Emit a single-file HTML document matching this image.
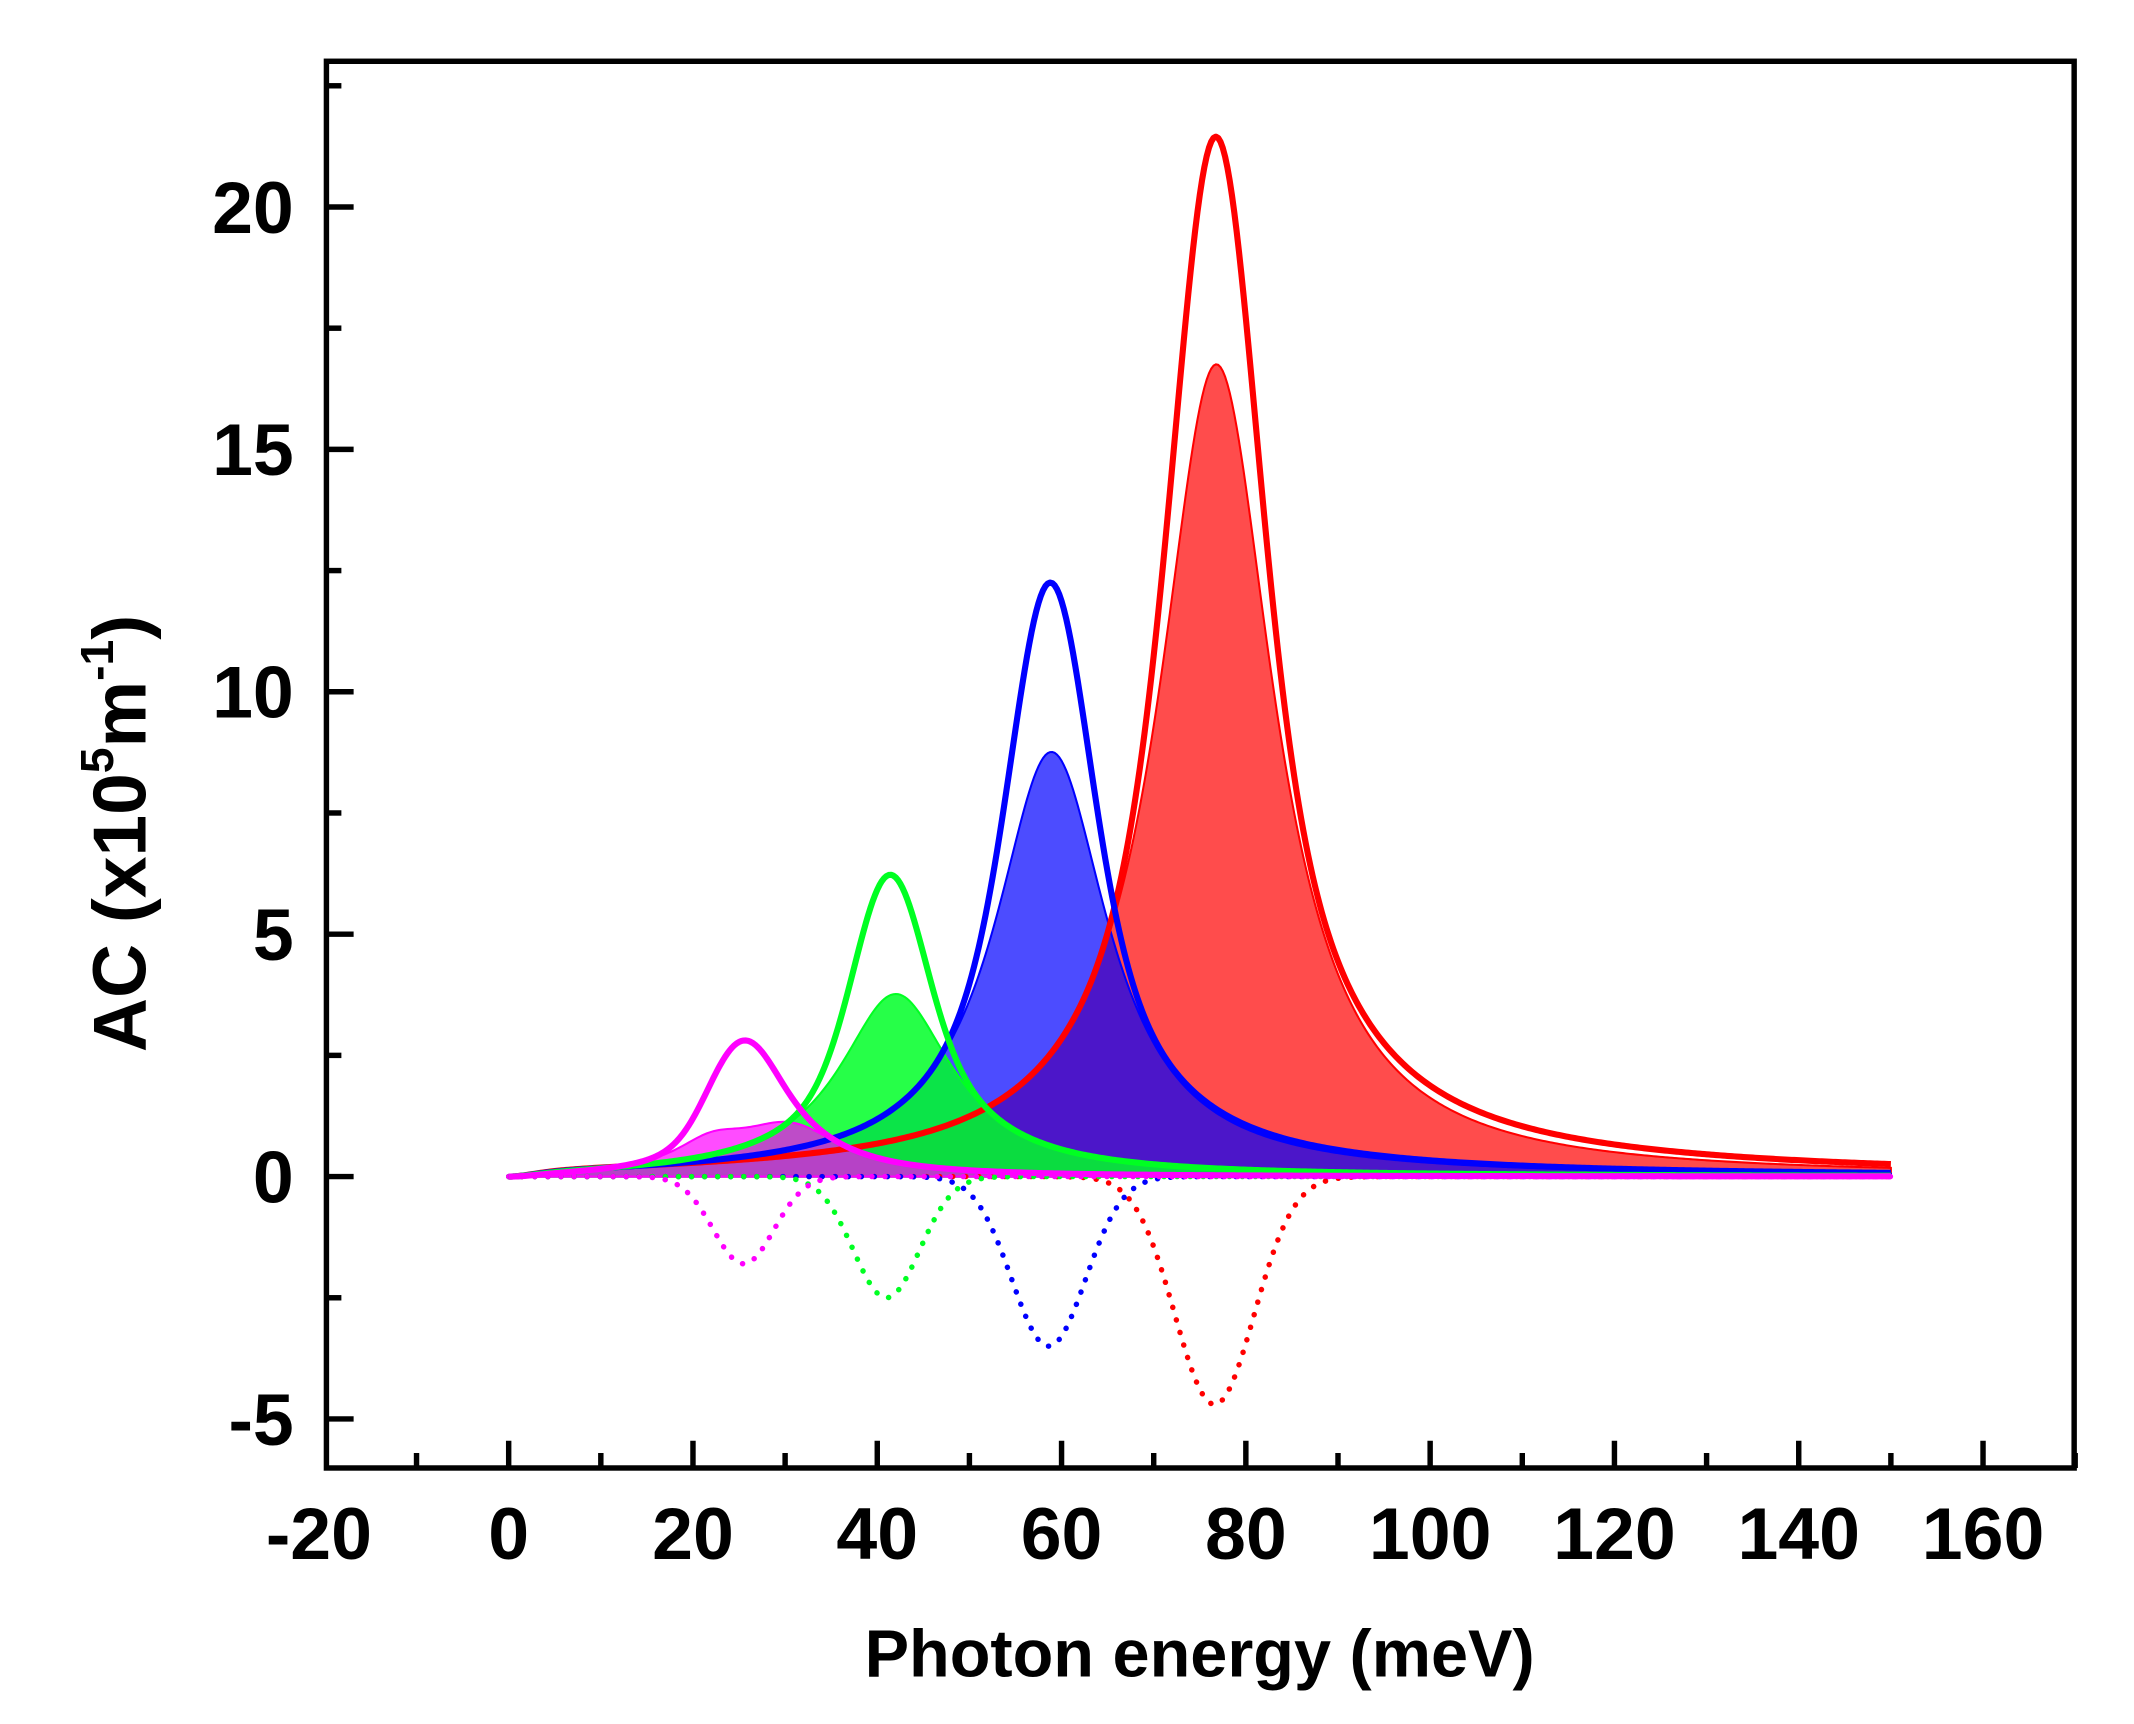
<!DOCTYPE html>
<html><head><meta charset="utf-8"><style>
html,body{margin:0;padding:0;background:#fff;}
svg{display:block;}
text{font-family:"Liberation Sans",Arial,sans-serif;font-weight:bold;fill:#000;}
</style></head><body>
<svg id="s" width="2134" height="1724" viewBox="0 0 1569 1266" preserveAspectRatio="none" xmlns="http://www.w3.org/2000/svg">
<g id="fills"></g>
<g id="lines"></g>
<rect x="240" y="45" width="1285" height="1033" fill="none" stroke="#000" stroke-width="4"/>
<g id="ticks" stroke="#000" stroke-width="4"></g>
<g font-size="54" text-anchor="middle" id="xl"></g>
<g font-size="54" text-anchor="end" id="yl"></g>
<text x="882" y="1231" font-size="49" text-anchor="middle">Photon energy (meV)</text>
<text transform="translate(107,612) rotate(-90)" font-size="55" text-anchor="middle">AC (x10<tspan font-size="34" dy="-24">5</tspan><tspan dy="24">m</tspan><tspan font-size="34" dy="-24">-1</tspan><tspan dy="24">)</tspan></text>
</svg>
<script>
var NS="http://www.w3.org/2000/svg";
function X(x){return 374+x*6.775;}
function Y(y){return 864-y*35.6;}
function L(x,c,g){return g*g/((x-c)*(x-c)+g*g);}
function G(x,c,s){return Math.exp(-(x-c)*(x-c)/(2*s*s));}
function damp(x){return x*x/(x*x+16);}
function right(x,c,a,g){return x>c ? a*L(x,c+3,g)*(1-G(x,c,8)) : 0;}
var series=[
 {col:"#ff0000",fill:"rgba(255,0,0,0.7)",lin:function(x){return 16.8*L(x,76.8,7.6)*damp(x);},nl:function(x){return 4.7*G(x,76.6,4.3);},ex:function(x){return right(x,76.6,0.32,40);}},
 {col:"#0000ff",fill:"rgba(0,0,255,0.7)",lin:function(x){return 8.8*L(x,58.9,7.5)*damp(x);},nl:function(x){return 3.5*G(x,58.6,4.0);},ex:function(x){return right(x,58.6,0.1,40);}},
 {col:"#00ff22",fill:"rgba(0,255,40,0.85)",lin:function(x){return 3.8*L(x,42,7.5)*damp(x);},nl:function(x){return 2.5*G(x,41,3.6);},ex:function(x){return 0;}},
 {col:"#ff00ff",fill:"rgba(255,0,255,0.7)",lin:function(x){return (0.55*L(x,22,5)+1.0*L(x,30.5,7))*damp(x);},nl:function(x){return 1.8*G(x,25.5,3.3);},ex:function(x){return 0;}}
];
var fills=document.getElementById("fills"),lines=document.getElementById("lines");
function mk(tag,attrs,par){var e=document.createElementNS(NS,tag);for(var k in attrs)e.setAttribute(k,attrs[k]);par.appendChild(e);return e;}
series.forEach(function(s){
  var pf="M"+X(0)+","+Y(0),pt="",pd="";
  for(var x=0;x<=150.001;x+=0.25){
    var l=s.lin(x),n=s.nl(x);
    pf+=" L"+X(x).toFixed(2)+","+Y(l).toFixed(2);
    pt+=(pt?" L":"M")+X(x).toFixed(2)+","+Y(l+n+s.ex(x)).toFixed(2);
    pd+=(pd?" L":"M")+X(x).toFixed(2)+","+Y(-n).toFixed(2);
  }
  pf+=" L"+X(150)+","+Y(0)+" Z";
  mk("path",{d:pf,fill:s.fill,stroke:s.col,"stroke-width":"1.5"},fills);
  s.pt=pt;s.pd=pd;
});
series.forEach(function(s){
  mk("path",{d:s.pd,fill:"none",stroke:s.col,"stroke-width":"4","stroke-dasharray":"0.1 9.5","stroke-linecap":"round"},lines);
});
series.forEach(function(s){
  mk("path",{d:s.pt,fill:"none",stroke:s.col,"stroke-width":"4.5","stroke-linejoin":"round"},lines);
});
var t=document.getElementById("ticks");
for(var v=-20;v<=170;v+=10){
  var len=(v%20===0)?20:11;
  if(v>-20)mk("line",{x1:X(v),y1:1078,x2:X(v),y2:1078-len},t);
}
for(var v=-5;v<=22.5;v+=2.5){
  var len=(v%5===0)?20:11;
  mk("line",{x1:240,y1:Y(v),x2:240+len,y2:Y(v)},t);
}
var xl=document.getElementById("xl");
for(var v=-20;v<=160;v+=20){mk("text",{x:X(v)-(v<0?4:0),y:1145},xl).textContent=String(v);}
var yl=document.getElementById("yl");
for(var v=-5;v<=20;v+=5){mk("text",{x:216,y:Y(v)+19},yl).textContent=String(v);}
</script>
</body></html>
